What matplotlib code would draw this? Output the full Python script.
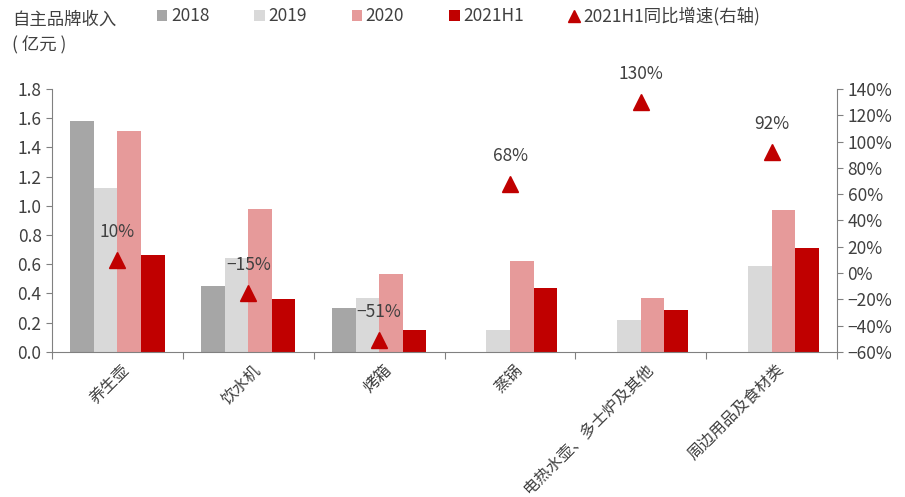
import numpy as np
import matplotlib
matplotlib.use("Agg")
import matplotlib.pyplot as plt
from matplotlib.patches import Patch
from matplotlib.lines import Line2D
from matplotlib.ticker import PercentFormatter, FormatStrFormatter

plt.rcParams['font.family'] = ['Noto Sans CJK SC', 'DejaVu Sans']

# 数据
categories = ['养生壶', '饮水机', '烤箱', '蒸锅', '电热水壶、多士炉及其他', '周边用品及食材类']
rev_2018 = [1.58, 0.45, 0.30, np.nan, np.nan, np.nan]
rev_2019 = [1.12, 0.64, 0.37, 0.15, 0.22, 0.59]
rev_2020 = [1.51, 0.98, 0.53, 0.62, 0.37, 0.97]
rev_2021h1 = [0.66, 0.36, 0.15, 0.44, 0.29, 0.71]
growth = [0.10, -0.15, -0.51, 0.68, 1.30, 0.92]
growth_labels = ['10%', '−15%', '−51%', '68%', '130%', '92%']
series_names = ['2018', '2019', '2020', '2021H1']

colors = ['#a6a6a6', '#d9d9d9', '#e69a9a', '#c00000']
txt = '#404040'
axc = '#808080'

fig = plt.figure(figsize=(9.05, 4.97), dpi=100)
ax = fig.add_axes([0.0575, 0.292, 0.8675, 0.529])
ax2 = ax.twinx()

x = np.arange(len(categories))
w = 0.18
for i, vals in enumerate([rev_2018, rev_2019, rev_2020, rev_2021h1]):
    ax.bar(x + (i - 1.5) * w, vals, width=w, color=colors[i], zorder=2)

ax2.plot(x, growth, linestyle='none', marker='^', markersize=12, color='#c00000', zorder=3)
for xi, g, lab in zip(x, growth, growth_labels):
    ax2.annotate(lab, (xi, g), xytext=(0, 20), textcoords='offset points',
                 ha='center', va='center', fontsize=12.5, color=txt, annotation_clip=False)

ax.set_xlim(-0.5, 5.5)
ax.set_ylim(0, 1.8)
ax.set_yticks(np.arange(0, 1.81, 0.2))
ax.yaxis.set_major_formatter(FormatStrFormatter('%.1f'))
ax2.set_ylim(-0.6, 1.4)
ax2.set_yticks(np.arange(-0.6, 1.41, 0.2))
ax2.yaxis.set_major_formatter(PercentFormatter(xmax=1, decimals=0))

ax.set_xticks(np.arange(-0.5, 5.6, 1))
ax.set_xticklabels([])
ax.set_xticks(x + 0.03, minor=True)
ax.set_xticklabels(categories, minor=True, rotation=45, ha='right', va='top',
                   rotation_mode='anchor', fontsize=11.5, color=txt)
ax.tick_params(axis='x', which='minor', length=0, pad=7)
ax.tick_params(axis='x', which='major', length=5, color=axc, direction='out')

for a in (ax, ax2):
    a.spines['top'].set_visible(False)
    for s in ('left', 'right', 'bottom'):
        a.spines[s].set_color(axc)
    a.tick_params(axis='y', labelsize=12.5, labelcolor=txt, color=axc, length=4)
ax.spines['right'].set_visible(False)
ax2.spines['left'].set_visible(False)
ax2.spines['bottom'].set_visible(False)

# 图例与单位
fig.text(12 / 905, 1 - 20 / 497, '自主品牌收入', fontsize=12.5, color=txt, va='center')
fig.text(12 / 905, 1 - 45 / 497, '( 亿元 )', fontsize=12.5, color=txt, va='center')

handles = [Patch(facecolor=c, edgecolor='none') for c in colors]
handles.append(Line2D([], [], linestyle='none', marker='^', color='#c00000', markersize=8))
labels = series_names + ['2021H1同比增速(右轴)']
fig.legend(handles, labels, loc='center left', bbox_to_anchor=(150 / 905, 1 - 16 / 497),
           ncol=5, frameon=False, fontsize=12.5, handlelength=0.6, handleheight=0.6,
           handletextpad=0.2, columnspacing=2.6, labelcolor=txt, borderaxespad=0)

fig.savefig('out.png', dpi=100)
